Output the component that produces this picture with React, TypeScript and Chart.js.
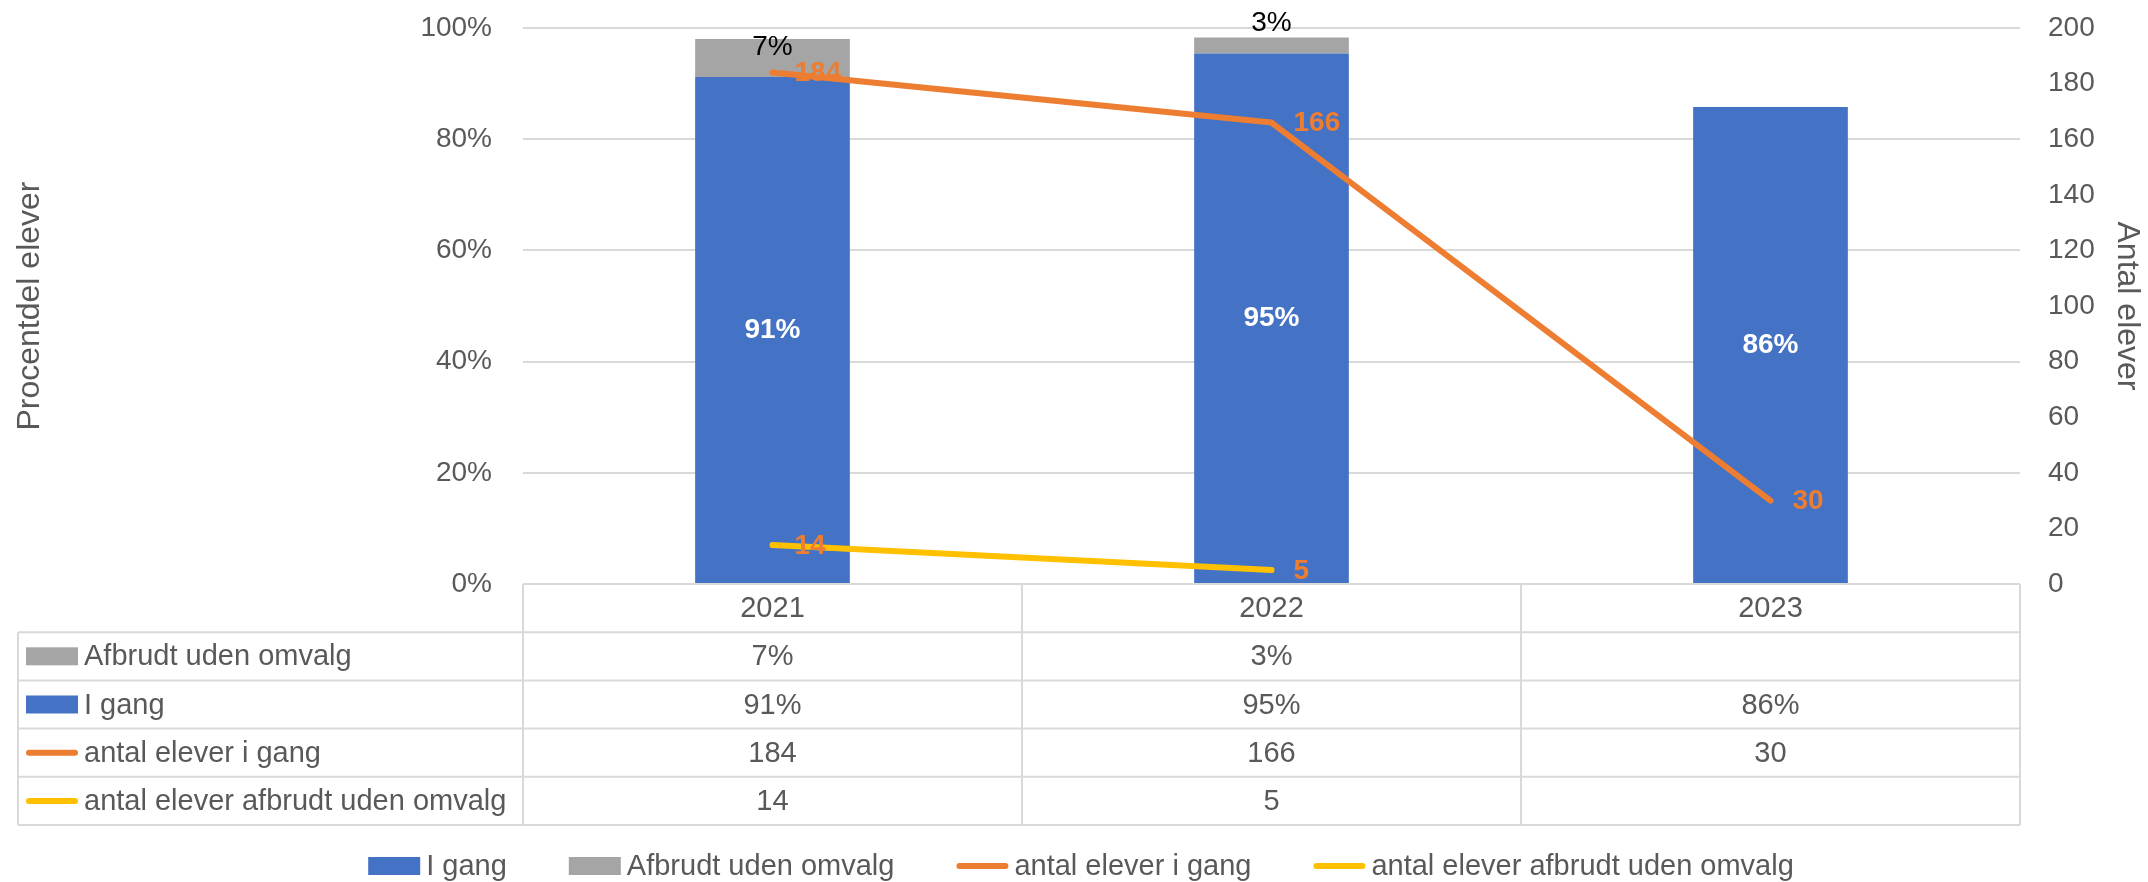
import React, { useEffect, useRef } from 'react';
import { Chart, registerables } from 'chart.js';
Chart.register(...registerables);

const years = ['2021', '2022', '2023'];
const iGangPct = [91.2, 95.4, 85.8];
const afbrudtPct: (number | null)[] = [6.8, 2.9, null];
const antalIGang = [184, 166, 30];
const antalAfbrudt: (number | null)[] = [14, 5, null];
const pctTickStep = 20;
const countTickStep = 20;
const afbrudtLabelDy = [-11, -22, 0];

const BLUE = '#4472C4';
const GRAY = '#A5A5A5';
const ORANGE = '#ED7D31';
const YELLOW = '#FFC000';
const TEXT = '#595959';
const GRID = '#D9D9D9';
const FONT = "'Liberation Sans', Arial, sans-serif";

const pctStr = (v: number | null) => (v == null ? '' : Math.round(v) + '%');
const numStr = (v: number | null) => (v == null ? '' : String(v));

const tableRows = [
  { label: 'Afbrudt uden omvalg', kind: 'rect', color: GRAY, values: afbrudtPct.map(pctStr) },
  { label: 'I gang', kind: 'rect', color: BLUE, values: iGangPct.map(pctStr) },
  { label: 'antal elever i gang', kind: 'line', color: ORANGE, values: antalIGang.map(numStr) },
  { label: 'antal elever afbrudt uden omvalg', kind: 'line', color: YELLOW, values: antalAfbrudt.map(numStr) },
];
const legendItems = [
  { label: 'I gang', kind: 'rect', color: BLUE },
  { label: 'Afbrudt uden omvalg', kind: 'rect', color: GRAY },
  { label: 'antal elever i gang', kind: 'line', color: ORANGE },
  { label: 'antal elever afbrudt uden omvalg', kind: 'line', color: YELLOW },
];

function drawSwatch(ctx: CanvasRenderingContext2D, kind: string, color: string, x: number, y: number) {
  if (kind === 'rect') {
    ctx.fillStyle = color;
    ctx.fillRect(x, y - 9, 52, 18);
  } else {
    ctx.strokeStyle = color;
    ctx.lineWidth = 6;
    ctx.lineCap = 'round';
    ctx.beginPath();
    ctx.moveTo(x + 3, y);
    ctx.lineTo(x + 49, y);
    ctx.stroke();
  }
}

const labelsPlugin = {
  id: 'valueLabels',
  afterDatasetsDraw(chart: any) {
    const ctx = chart.ctx as CanvasRenderingContext2D;
    ctx.save();
    ctx.textBaseline = 'middle';
    chart.data.datasets.forEach((ds: any, di: number) => {
      const meta = chart.getDatasetMeta(di);
      meta.data.forEach((el: any, i: number) => {
        const v = ds.data[i];
        if (v == null) return;
        if (ds.type === 'bar') {
          const cy = (el.y + el.base) / 2;
          if (ds.key === 'igang') {
            ctx.font = `bold 28px ${FONT}`;
            ctx.fillStyle = '#FFFFFF';
            ctx.textAlign = 'center';
            ctx.fillText(pctStr(v), el.x, cy);
          } else {
            ctx.font = `28px ${FONT}`;
            ctx.fillStyle = '#000000';
            ctx.textAlign = 'center';
            ctx.fillText(pctStr(v), el.x, cy + afbrudtLabelDy[i]);
          }
        } else {
          ctx.font = `bold 28px ${FONT}`;
          ctx.fillStyle = ORANGE;
          ctx.textAlign = 'left';
          ctx.fillText(String(v), el.x + 22, el.y + 1);
        }
      });
    });
    ctx.restore();
  },
};

const tablePlugin = {
  id: 'dataTable',
  afterDraw(chart: any) {
    const ctx = chart.ctx as CanvasRenderingContext2D;
    const xs = chart.scales.x;
    const area = chart.chartArea;
    const tableLeft = 18;
    const colL = area.left;
    const right = area.right;
    const top = area.bottom;
    const rowH = 48.2;
    const nRows = tableRows.length + 1;
    const bottom = top + nRows * rowH;
    const n = years.length;
    const cw = (right - colL) / n;
    ctx.save();
    ctx.strokeStyle = GRID;
    ctx.lineWidth = 2;
    for (let r = 0; r <= nRows; r++) {
      const y = top + r * rowH;
      ctx.beginPath();
      ctx.moveTo(r === 0 ? colL : tableLeft, y);
      ctx.lineTo(right, y);
      ctx.stroke();
    }
    ctx.beginPath();
    ctx.moveTo(tableLeft, top + rowH);
    ctx.lineTo(tableLeft, bottom);
    ctx.stroke();
    for (let c = 0; c <= n; c++) {
      const x = colL + c * cw;
      ctx.beginPath();
      ctx.moveTo(x, top);
      ctx.lineTo(x, bottom);
      ctx.stroke();
    }
    ctx.font = `29px ${FONT}`;
    ctx.fillStyle = TEXT;
    ctx.textBaseline = 'middle';
    ctx.textAlign = 'center';
    years.forEach((yr, i) => {
      ctx.fillText(yr, xs.getPixelForValue(i), top + rowH / 2 + 1);
    });
    tableRows.forEach((row, r) => {
      const cy = top + (r + 1) * rowH + rowH / 2;
      drawSwatch(ctx, row.kind, row.color, 26, cy);
      ctx.fillStyle = TEXT;
      ctx.textAlign = 'left';
      ctx.fillText(row.label, 84, cy + 1);
      ctx.textAlign = 'center';
      row.values.forEach((v, i) => {
        if (v) ctx.fillText(v, xs.getPixelForValue(i), cy + 1);
      });
    });
    // legend
    const ly = 866;
    const gapText = 6;
    const spacing = 62;
    const widths = legendItems.map((it) => 52 + gapText + ctx.measureText(it.label).width);
    const total = widths.reduce((a, b) => a + b, 0) + spacing * (legendItems.length - 1);
    let x = chart.width / 2 + 7 - total / 2;
    legendItems.forEach((it, i) => {
      drawSwatch(ctx, it.kind, it.color, x, ly);
      ctx.fillStyle = TEXT;
      ctx.textAlign = 'left';
      ctx.fillText(it.label, x + 52 + gapText, ly + 1);
      x += widths[i] + spacing;
    });
    ctx.restore();
  },
};

export default function App() {
  const ref = useRef<HTMLCanvasElement | null>(null);
  useEffect(() => {
    document.body.style.margin = '0';
    if (!ref.current) return;
    const chart = new Chart(ref.current, {
      type: 'bar',
      data: {
        labels: years,
        datasets: [
          {
            type: 'line', label: 'antal elever i gang', data: antalIGang, yAxisID: 'y1',
            borderColor: ORANGE, backgroundColor: ORANGE, borderWidth: 6, pointRadius: 0,
            borderCapStyle: 'round', borderJoinStyle: 'round', order: 0,
          } as any,
          {
            type: 'line', label: 'antal elever afbrudt uden omvalg', data: antalAfbrudt, yAxisID: 'y1',
            borderColor: YELLOW, backgroundColor: YELLOW, borderWidth: 6, pointRadius: 0,
            borderCapStyle: 'round', borderJoinStyle: 'round', order: 0,
          } as any,
          {
            type: 'bar', key: 'igang', label: 'I gang', data: iGangPct, yAxisID: 'y',
            backgroundColor: BLUE, stack: 's', order: 1, barPercentage: 0.31, categoryPercentage: 1,
          } as any,
          {
            type: 'bar', key: 'afbrudt', label: 'Afbrudt uden omvalg', data: afbrudtPct, yAxisID: 'y',
            backgroundColor: GRAY, stack: 's', order: 1, barPercentage: 0.31, categoryPercentage: 1,
          } as any,
        ],
      },
      options: {
        animation: false,
        responsive: true,
        maintainAspectRatio: false,
        layout: { padding: { top: 28, bottom: 298, left: 0, right: 0 } },
        plugins: { legend: { display: false }, tooltip: { enabled: false } },
        scales: {
          x: { display: false, stacked: true },
          y: {
            position: 'left', stacked: true, min: 0, max: 100,
            ticks: { stepSize: pctTickStep, callback: (v: any) => v + '%', color: TEXT, font: { size: 28, family: FONT }, padding: 31 },
            grid: { color: GRID, lineWidth: 2, drawTicks: false },
            border: { display: false },
            title: { display: true, text: 'Procentdel elever', color: TEXT, font: { size: 32, family: FONT }, padding: { top: 11, bottom: 0 } },
            afterFit: (s: any) => { s.width = 523; s.paddingTop = 0; s.paddingBottom = 0; },
          },
          y1: {
            position: 'right', min: 0, max: 200,
            ticks: { stepSize: countTickStep, color: TEXT, font: { size: 28, family: FONT }, padding: 28 },
            grid: { display: false, drawTicks: false },
            border: { display: false },
            title: { display: true, text: 'Antal elever', color: TEXT, font: { size: 32, family: FONT }, padding: { top: 2, bottom: 0 } },
            afterFit: (s: any) => { s.width = 128; s.paddingTop = 0; s.paddingBottom = 0; },
          },
        },
      } as any,
      plugins: [labelsPlugin, tablePlugin],
    });
    return () => chart.destroy();
  }, []);
  return (
    <div style={{ width: 2148, height: 882, position: 'relative' }}>
      <canvas ref={ref} />
    </div>
  );
}
